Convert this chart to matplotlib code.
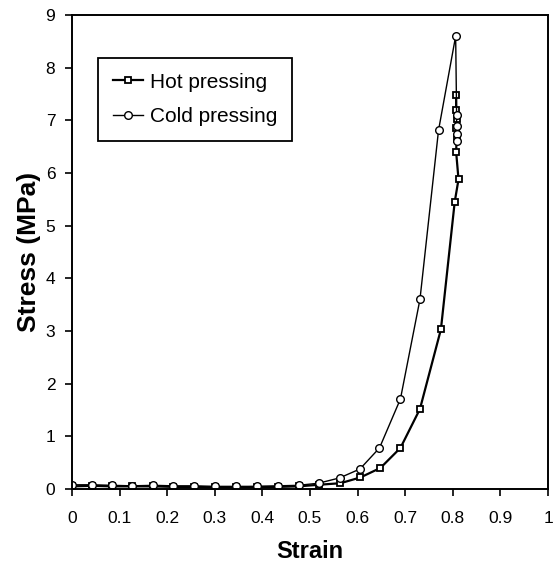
import matplotlib
matplotlib.use("Agg")
import matplotlib.pyplot as plt

plt.rcParams['font.family'] = ['Liberation Sans', 'DejaVu Sans']

# strain / stress
hot_strain = [0.0, 0.042, 0.084, 0.127, 0.171, 0.213, 0.257, 0.301, 0.345, 0.389,
              0.432, 0.476, 0.518, 0.564, 0.606, 0.648, 0.69, 0.731, 0.775, 0.804,
              0.812, 0.807, 0.808, 0.807, 0.808, 0.807, 0.807]
hot_stress = [0.05, 0.06, 0.05, 0.05, 0.05, 0.04, 0.04, 0.03, 0.03, 0.04,
              0.04, 0.05, 0.08, 0.11, 0.22, 0.40, 0.78, 1.52, 3.03, 5.45,
              5.88, 6.40, 6.65, 6.85, 7.02, 7.20, 7.48]

cold_strain = [0.0, 0.042, 0.084, 0.127, 0.171, 0.213, 0.257, 0.301, 0.345, 0.389,
               0.432, 0.476, 0.518, 0.562, 0.605, 0.646, 0.69, 0.731, 0.77, 0.806,
               0.808, 0.808, 0.809, 0.809]
cold_stress = [0.08, 0.08, 0.07, 0.06, 0.07, 0.06, 0.06, 0.05, 0.05, 0.05,
               0.06, 0.07, 0.11, 0.21, 0.38, 0.78, 1.71, 3.60, 6.81, 8.60,
               7.10, 6.90, 6.75, 6.60]

fig = plt.figure(figsize=(5.55, 5.69), dpi=100)
ax = fig.add_axes([0.1297, 0.1406, 0.8577, 0.833])

ax.plot(hot_strain, hot_stress, color='black', lw=1.6, marker='s', ms=4.3,
        mfc='white', mec='black', mew=1.3, label='Hot pressing')
ax.plot(cold_strain, cold_stress, color='black', lw=1.0, marker='o', ms=5.5,
        mfc='white', mec='black', mew=1.0, label='Cold pressing')

ax.set_xlim(0, 1)
ax.set_ylim(0, 9)
ax.set_xticks([i / 10 for i in range(11)])
ax.set_xticklabels(['0', '0.1', '0.2', '0.3', '0.4', '0.5', '0.6', '0.7', '0.8', '0.9', '1'])
ax.set_yticks(range(10))
ax.tick_params(direction='out', length=5, width=1.2, labelsize=12.5)
ax.tick_params(axis='x', pad=11)
ax.tick_params(axis='y', pad=7)
for s in ax.spines.values():
    s.set_linewidth(1.4)

ax.set_xlabel('Strain', fontsize=17, fontweight='bold', labelpad=10)
ax.set_ylabel('Stress (MPa)', fontsize=19, fontweight='bold', labelpad=3)

leg = ax.legend(loc='upper left', bbox_to_anchor=(0.055, 0.909), fontsize=15,
                frameon=True, fancybox=False, edgecolor='black', framealpha=1,
                handlelength=1.45, borderpad=0.7, labelspacing=0.75, handletextpad=0.35,
                borderaxespad=0)
leg.get_frame().set_linewidth(1.3)

fig.savefig('out.png', dpi=100)
